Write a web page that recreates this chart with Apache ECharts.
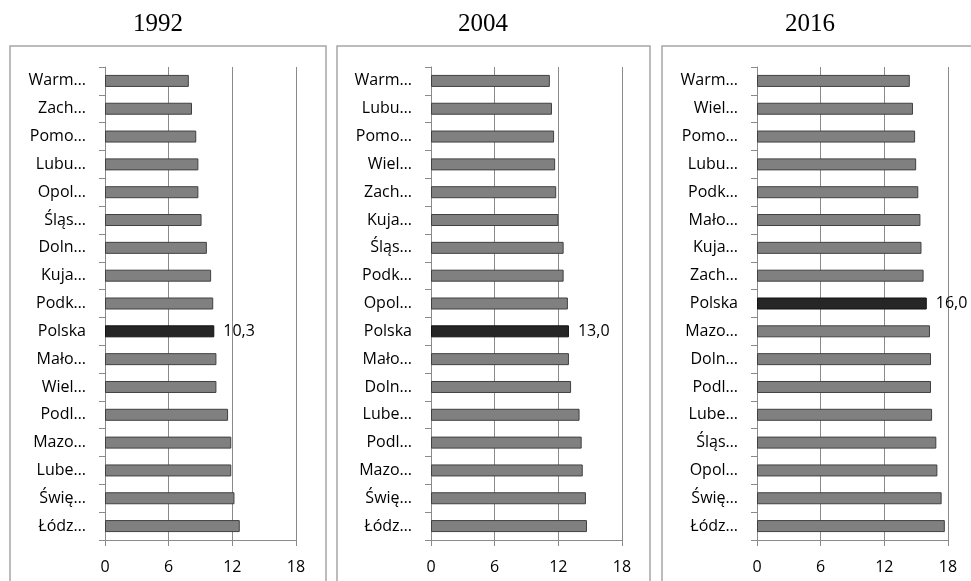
<!DOCTYPE html>
<html>
<head>
<meta charset="utf-8">
<script src="https://cdn.jsdelivr.net/npm/echarts@6/dist/echarts.min.js"></script>
<style>
  html, body { margin: 0; padding: 0; background: #fff; }
  #chart { width: 971px; height: 581px; }
</style>
</head>
<body>
<div id="chart"></div>
<script>
// lata / panele
const years = ['1992', '2004', '2016'];

const cat1992 = ['Warm…', 'Zach…', 'Pomo…', 'Lubu…', 'Opol…', 'Śląs…', 'Doln…', 'Kuja…', 'Podk…', 'Polska', 'Mało…', 'Wiel…', 'Podl…', 'Mazo…', 'Lube…', 'Świę…', 'Łódz…'];
const val1992 = [7.9, 8.2, 8.6, 8.8, 8.8, 9.1, 9.6, 10.0, 10.2, 10.3, 10.5, 10.5, 11.6, 11.9, 11.9, 12.2, 12.7];

const cat2004 = ['Warm…', 'Lubu…', 'Pomo…', 'Wiel…', 'Zach…', 'Kuja…', 'Śląs…', 'Podk…', 'Opol…', 'Polska', 'Mało…', 'Doln…', 'Lube…', 'Podl…', 'Mazo…', 'Świę…', 'Łódz…'];
const val2004 = [11.2, 11.4, 11.6, 11.7, 11.8, 12.0, 12.5, 12.5, 12.9, 13.0, 13.0, 13.2, 14.0, 14.2, 14.3, 14.6, 14.7];

const cat2016 = ['Warm…', 'Wiel…', 'Pomo…', 'Lubu…', 'Podk…', 'Mało…', 'Kuja…', 'Zach…', 'Polska', 'Mazo…', 'Doln…', 'Podl…', 'Lube…', 'Śląs…', 'Opol…', 'Świę…', 'Łódz…'];
const val2016 = [14.4, 14.7, 14.9, 15.0, 15.2, 15.4, 15.5, 15.7, 16.0, 16.3, 16.4, 16.4, 16.5, 16.9, 17.0, 17.4, 17.7];

const xTicks = [0, 6, 12, 18];

const panels = [
  { cats: cat1992, vals: val1992, left: 105, box: [10, 326], titleX: 158 },
  { cats: cat2004, vals: val2004, left: 431, box: [337, 650], titleX: 483 },
  { cats: cat2016, vals: val2016, left: 757, box: [662, 990], titleX: 810 },
];

const labelFont = '"Open Sans", sans-serif';
const gridColor = '#8a8a8a';

const chart = echarts.init(document.getElementById('chart'));

const option = {
  animation: false,
  backgroundColor: '#fff',
  graphic: [].concat(
    panels.map(p => ({
      type: 'rect',
      z: -10,
      shape: { x: p.box[0], y: 46, width: p.box[1] - p.box[0], height: 600 },
      style: { fill: '#fff', stroke: '#a6a6a6', lineWidth: 1.5 }
    })),
    panels.map((p, i) => ({
      type: 'text',
      x: p.titleX,
      y: 24,
      style: {
        text: years[i],
        align: 'center',
        verticalAlign: 'middle',
        font: '25px "Liberation Serif", serif',
        fill: '#000'
      }
    }))
  ),
  grid: panels.map(p => ({ left: p.left, top: 67, width: 191, height: 473 })),
  xAxis: panels.map((p, i) => ({
    type: 'value',
    gridIndex: i,
    min: xTicks[0],
    max: xTicks[xTicks.length - 1],
    interval: xTicks[1] - xTicks[0],
    axisLine: { show: true, lineStyle: { color: gridColor, width: 1 } },
    axisTick: { show: true, length: 6, lineStyle: { color: gridColor } },
    axisLabel: { color: '#000', fontSize: 16, fontFamily: labelFont, margin: 19 },
    splitLine: { show: true, lineStyle: { color: gridColor, width: 1 } }
  })),
  yAxis: panels.map((p, i) => ({
    type: 'category',
    gridIndex: i,
    inverse: true,
    data: p.cats,
    axisLine: { show: true, lineStyle: { color: gridColor, width: 1 } },
    axisTick: { show: true, length: 6, alignWithLabel: false, lineStyle: { color: gridColor } },
    axisLabel: { color: '#000', fontSize: 16, fontFamily: labelFont, margin: 19 },
    splitLine: { show: false }
  })),
  series: panels.map((p, i) => ({
    type: 'bar',
    xAxisIndex: i,
    yAxisIndex: i,
    barWidth: 12,
    itemStyle: { color: '#808080', borderColor: '#404040', borderWidth: 1 },
    label: {
      show: false,
      position: 'right',
      distance: 9,
      color: '#000',
      fontSize: 16,
      fontFamily: labelFont,
      formatter: (d) => d.value.toFixed(1).replace('.', ',')
    },
    data: p.vals.map((v, k) => p.cats[k] === 'Polska'
      ? { value: v, itemStyle: { color: '#262626', borderColor: '#111' }, label: { show: true } }
      : v)
  }))
};

chart.setOption(option);
</script>
</body>
</html>
